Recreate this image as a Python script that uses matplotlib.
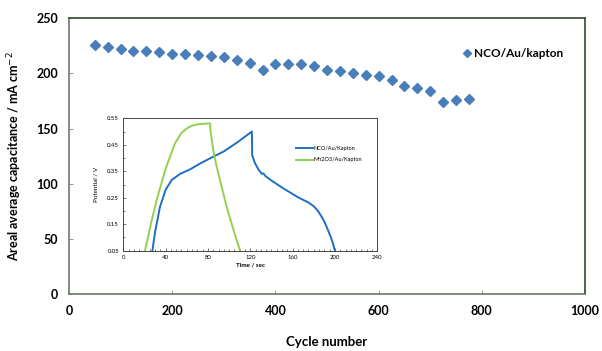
import matplotlib.pyplot as plt
from matplotlib.ticker import MultipleLocator

# main series: capacitance vs cycle number
cycles = [50, 75, 100, 125, 150, 175, 200, 225, 250, 275, 300, 325, 350, 375, 400,
          425, 450, 475, 500, 525, 550, 575, 600, 625, 650, 675, 700, 725, 750, 775]
capacitance = [225.7, 224.2, 222.4, 220.9, 220.3, 219.1, 217.6, 217.6, 217.0, 215.7,
               215.2, 212.1, 209.7, 203.4, 208.8, 209.0, 208.5, 206.7, 203.0, 202.7,
               200.9, 199.0, 197.3, 194.5, 188.5, 187.0, 184.5, 174.0, 176.0, 177.0]

# inset: charge/discharge curves
nco_time = [27.5, 30, 34.7, 40, 45.7, 53.6, 63, 72, 82, 95, 108, 121.5,
            121.8, 124.5, 128, 131, 132.5, 134, 140, 151, 165, 175, 180, 184,
            187.5, 190, 193, 196, 198, 200]
nco_volt = [0.05, 0.12, 0.216, 0.28, 0.317, 0.34, 0.357, 0.378, 0.399, 0.425, 0.46, 0.50,
            0.41, 0.38, 0.355, 0.34, 0.342, 0.333, 0.315, 0.286, 0.252, 0.232, 0.218, 0.2,
            0.178, 0.16, 0.132, 0.102, 0.08, 0.05]
mn_time = [20.5, 26, 31.5, 40, 48.9, 55, 59.9, 65, 69.4, 75, 82,
           82.5, 85, 88.3, 93, 97.7, 104, 110.3]
mn_volt = [0.05, 0.15, 0.241, 0.36, 0.456, 0.495, 0.512, 0.522, 0.527, 0.529, 0.531,
           0.50, 0.43, 0.367, 0.29, 0.216, 0.13, 0.05]

plt.rcParams['font.family'] = ['Lato', 'DejaVu Sans']

fig = plt.figure(figsize=(6.02, 3.51), dpi=100)
ax = fig.add_axes([0.1146, 0.1638, 0.8572, 0.7835])

ax.plot(cycles, capacitance, linestyle='none', marker='D', markersize=5.5,
        color='#4a7ebb', label='NCO/Au/kapton')
ax.set_xlim(0, 1000)
ax.set_ylim(0, 250)
ax.xaxis.set_major_locator(MultipleLocator(200))
ax.yaxis.set_major_locator(MultipleLocator(50))
ax.tick_params(direction='in', length=3, width=0.6, color='#888888',
               labelsize=9, pad=8)
for lab in ax.get_xticklabels() + ax.get_yticklabels():
    lab.set_fontweight('bold')
ax.set_xlabel('Cycle number', fontsize=9.5, fontweight='bold', labelpad=14)
ax.set_ylabel('Areal average capacitance / mA cm$^{-2}$', fontsize=9,
              fontweight='bold', labelpad=9)
for side in ['left', 'bottom']:
    ax.spines[side].set_color('#6b7a6b')
    ax.spines[side].set_linewidth(1.2)
for side in ['top', 'right']:
    ax.spines[side].set_color('#2d4a2d')
    ax.spines[side].set_linewidth(1.2)

leg = ax.legend(loc='upper left', bbox_to_anchor=(0.74, 0.93), frameon=False,
                handletextpad=0.1, handlelength=1.0, markerscale=0.8,
                prop={'weight': 'bold', 'size': 8.5})

# inset
ins = fig.add_axes([0.2048, 0.2857, 0.4219, 0.3772])
ins.plot(nco_time, nco_volt, color='#1f6fc0', linewidth=1.4, label='NCO/Au/Kapton')
ins.plot(mn_time, mn_volt, color='#92d050', linewidth=1.4, label='Mn2O3/Au/Kapton')
ins.set_xlim(0, 240)
ins.set_ylim(0.05, 0.55)
ins.xaxis.set_major_locator(MultipleLocator(40))
ins.xaxis.set_minor_locator(MultipleLocator(5))
ins.set_yticks([0.05, 0.15, 0.25, 0.35, 0.45, 0.55])
ins.yaxis.set_minor_locator(MultipleLocator(0.05))
ins.set_yticklabels(['0.05', '0.15', '0.25', '0.35', '0.45', '0.55'])
ins.tick_params(which='both', direction='in', labelsize=4.3, width=0.5, color='#444444')
ins.tick_params(which='major', length=2.5, pad=3)
ins.tick_params(which='minor', length=1.5)
ins.tick_params(axis='y', which='minor', right=False)
ins.set_xlabel('Time / sec', fontsize=4.5, fontweight='bold', labelpad=2)
ins.set_ylabel('Potential / V', fontsize=4.5, labelpad=6)
for s in ins.spines.values():
    s.set_color('#444444')
    s.set_linewidth(0.7)
ins.legend(loc='upper left', bbox_to_anchor=(0.66, 0.83), frameon=False,
           fontsize=4, handlelength=3, handletextpad=0.2, labelspacing=1.2)

fig.savefig('out.png', dpi=100)
